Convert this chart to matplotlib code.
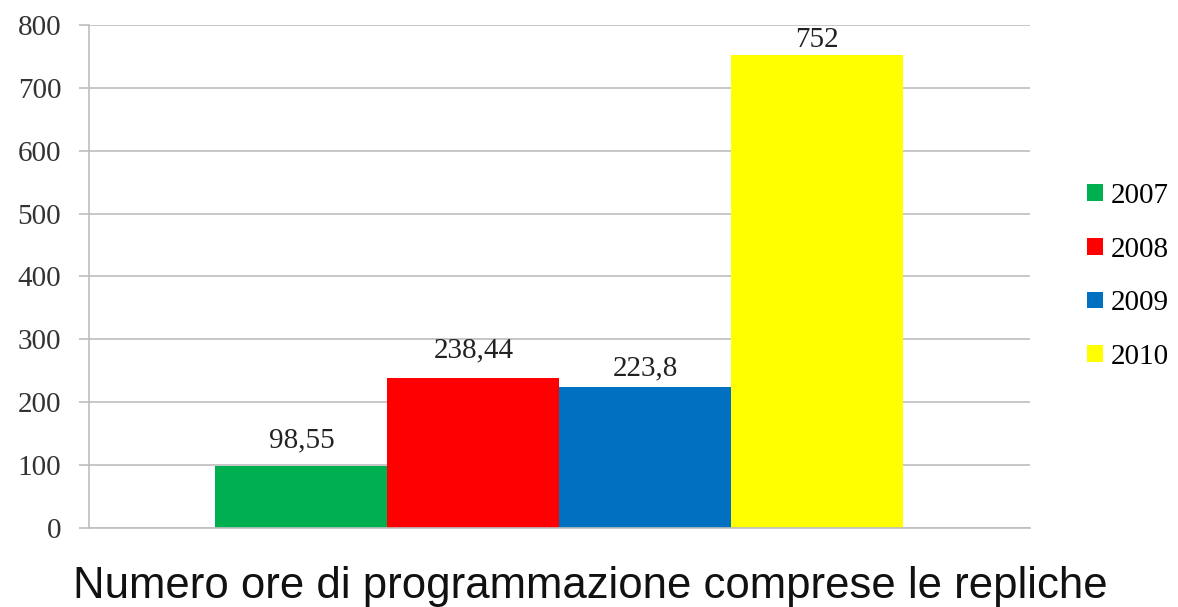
import matplotlib.pyplot as plt
import numpy as np

years = ["2007", "2008", "2009", "2010"]
values = [98.55, 238.44, 223.8, 752]
value_labels = ["98,55", "238,44", "223,8", "752"]
colors = ["#00B050", "#FF0000", "#0070C0", "#FFFF00"]
yticks = [0, 100, 200, 300, 400, 500, 600, 700, 800]
xlabel = "Numero ore di programmazione comprese le repliche"

# label gaps above the bars (points), as placed in the original
label_gaps = [9, 10.5, 4, 1.5]

serif = "Liberation Serif"
sans = "Liberation Sans"

fig = plt.figure(figsize=(11.78, 6.07), dpi=100)
ax = fig.add_axes([0.0756, 0.130, 0.7985, 0.829])

x = np.arange(len(values))
bars = ax.bar(x, values, width=1.0, color=colors, label=years, zorder=2)

for xi, v, lab, gap in zip(x, values, value_labels, label_gaps):
    ax.annotate(lab, (xi, v), xytext=(0, gap), textcoords="offset points",
                ha="center", va="bottom", fontsize=21, family=serif,
                color="#222222")

ax.set_xlim(-1.235, 4.235)
ax.set_ylim(0, 800)
ax.set_yticks(yticks)
ax.set_yticklabels([str(t) for t in yticks], fontsize=21, family=serif,
                   color="#333333")
ax.set_xticks([])
ax.yaxis.grid(True, color="#BEBEBE", lw=1.2, zorder=0)
ax.tick_params(axis="y", length=7, color="#BEBEBE", width=1.2, pad=13)

for s in ["top", "right"]:
    ax.spines[s].set_visible(False)
ax.spines["left"].set_color("#BEBEBE")
ax.spines["bottom"].set_color("#BEBEBE")
ax.spines["left"].set_linewidth(1.2)
ax.spines["bottom"].set_linewidth(1.2)

leg = ax.legend(handles=bars, labels=years, loc="center left",
                bbox_to_anchor=(1.033, 0.5), frameon=False,
                prop={"family": serif, "size": 21},
                handlelength=0.55, handleheight=0.5, handletextpad=0.25,
                labelspacing=0.95)

fig.text(0.501, 0.0148, xlabel, ha="center", va="baseline", fontsize=31.5,
         family=sans, color="#111111")

fig.savefig("out.png", dpi=100)
